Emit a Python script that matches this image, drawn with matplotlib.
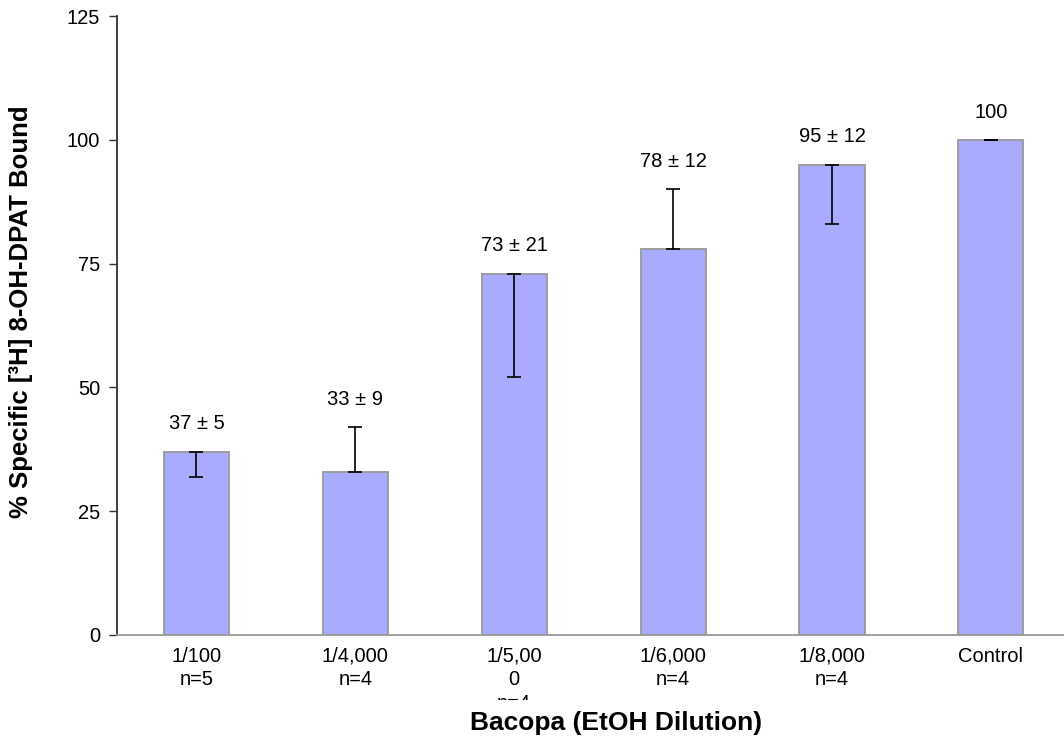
import numpy as np
import matplotlib as mpl
mpl.use("Agg")
import matplotlib.pyplot as plt
from matplotlib.patches import Rectangle

plt.rcParams['font.family'] = ['Liberation Sans', 'DejaVu Sans']

# data
categories = ["1/100\nn=5", "1/4,000\nn=4", "1/5,00\n0\nn=4", "1/6,000\nn=4", "1/8,000\nn=4", "Control"]
means = [37, 33, 73, 78, 95, 100]
sem = [5, 9, 21, 12, 12, 0]
err_down = [5, 0, 21, 0, 12, 0]
err_up = [0, 9, 0, 12, 0, 0]
value_labels = ["37 \u00b1 5", "33 \u00b1 9", "73 \u00b1 21", "78 \u00b1 12", "95 \u00b1 12", "100"]

fig = plt.figure(figsize=(10.64, 7.38), dpi=100)
ax = fig.add_axes([117 / 1064, 103 / 738, 947 / 1064, 619 / 738])

x = np.arange(len(categories))
ax.bar(x, means, width=0.41, color='#a9abff', edgecolor='#999999', linewidth=1.3, zorder=2)
ax.errorbar(x, means, yerr=[err_down, err_up], fmt='none', ecolor='black',
            elinewidth=1.2, capsize=5, capthick=1.2, zorder=3)

for xi, m, up, lab in zip(x, means, err_up, value_labels):
    ax.annotate(lab, (xi, m + up), xytext=(0, 20), textcoords='offset points',
                ha='center', va='center', fontsize=14.5)

ax.set_xlim(-0.5, 5.46)
ax.set_ylim(0, 125)
ax.set_yticks([0, 25, 50, 75, 100, 125])
ax.tick_params(axis='y', labelsize=14.5, length=6, width=1, color='#333333', pad=6)
ax.set_xticks(x)
ax.set_xticklabels(categories, fontsize=14.5, linespacing=1.3)
ax.tick_params(axis='x', length=0, pad=8.5)

for s in ['top', 'right']:
    ax.spines[s].set_visible(False)
ax.spines['left'].set_color('#333333')
ax.spines['left'].set_linewidth(1.3)
ax.spines['bottom'].set_color('#999999')
ax.spines['bottom'].set_linewidth(1.3)

# third category label is cut off in the original
clip = Rectangle((0, 38 / 738), 1, 1, transform=fig.transFigure, visible=False)
fig.add_artist(clip)
lbl = ax.get_xticklabels()[2]
lbl.set_clip_on(True)
lbl.set_clip_path(clip)

ax.set_ylabel("% Specific [\u00b3H] 8-OH-DPAT Bound", fontsize=18.5, fontweight='bold')
ax.yaxis.set_label_coords(-0.0887, 0.523)
ax.set_xlabel("Bacopa (EtOH Dilution)", fontsize=19, fontweight='bold')
ax.xaxis.set_label_coords(0.527, -0.123)

fig.savefig("out.png", dpi=100)
